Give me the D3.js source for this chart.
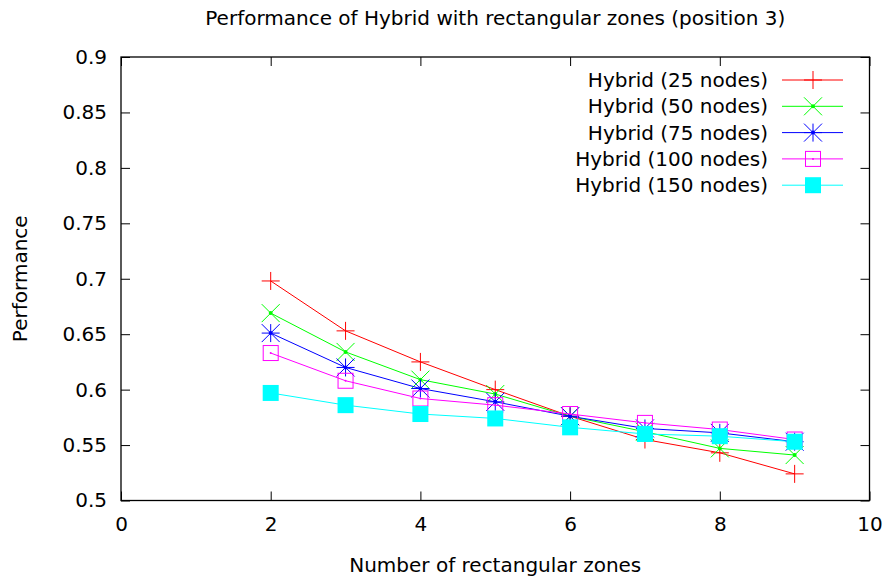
<!DOCTYPE html>
<html>
<head>
<meta charset="utf-8">
<script src="https://cdn.jsdelivr.net/npm/d3@7"></script>
<style>
  html, body { margin: 0; padding: 0; background: #fff; }
  svg { display: block; }
  text { font-family: "DejaVu Sans", sans-serif; fill: #000; }
</style>
</head>
<body>
<svg id="chart" width="886" height="581"></svg>
<script>
// ---- data ----
const xValues = [2, 3, 4, 5, 6, 7, 8, 9];
const seriesNames = ["Hybrid (25 nodes)", "Hybrid (50 nodes)", "Hybrid (75 nodes)", "Hybrid (100 nodes)", "Hybrid (150 nodes)"];
const nodes25  = [0.698, 0.653, 0.625, 0.600, 0.576, 0.555, 0.543, 0.524];
const nodes50  = [0.669, 0.634, 0.609, 0.596, 0.576, 0.562, 0.547, 0.541];
const nodes75  = [0.651, 0.620, 0.601, 0.589, 0.576, 0.565, 0.561, 0.553];
const nodes100 = [0.633, 0.608, 0.592, 0.586, 0.578, 0.570, 0.564, 0.555];
const nodes150 = [0.597, 0.586, 0.578, 0.574, 0.566, 0.560, 0.558, 0.553];
const xTicks = [0, 2, 4, 6, 8, 10];
const yTicks = [0.5, 0.55, 0.6, 0.65, 0.7, 0.75, 0.8, 0.85, 0.9];
const titleText = "Performance of Hybrid with rectangular zones (position 3)";
const xLabel = "Number of rectangular zones";
const yLabel = "Performance";

const seriesValues = [nodes25, nodes50, nodes75, nodes100, nodes150];
const colors = ["#ff0000", "#00ff00", "#0000ff", "#ff00ff", "#00ffff"];
const markers = ["plus", "cross", "star", "box", "fbox"];

// ---- layout ----
const svg = d3.select("#chart");
const L = 121, R = 869.5, T = 57, B = 500.5;
const x = d3.scaleLinear().domain([0, 10]).range([L, R]);
const y = d3.scaleLinear().domain([0.5, 0.9]).range([B, T]);
const fs = 20;

// title
svg.append("text").attr("x", (L + R) / 2).attr("y", 25)
  .attr("text-anchor", "middle").attr("font-size", fs).text(titleText);

// axes via d3 (ticks inward)
const fmt = d => d3.format("")(+d.toFixed(2));
const gx = svg.append("g").attr("transform", `translate(0,${B})`)
  .call(d3.axisBottom(x).tickValues(xTicks).tickSize(-9).tickPadding(16).tickFormat(fmt));
const gy = svg.append("g").attr("transform", `translate(${L},0)`)
  .call(d3.axisLeft(y).tickValues(yTicks).tickSize(-9).tickPadding(14).tickFormat(fmt));
const gxt = svg.append("g").attr("transform", `translate(0,${T})`)
  .call(d3.axisTop(x).tickValues(xTicks).tickSize(-9).tickFormat(""));
const gyr = svg.append("g").attr("transform", `translate(${R},0)`)
  .call(d3.axisRight(y).tickValues(yTicks).tickSize(-9).tickFormat(""));
[gx, gy, gxt, gyr].forEach(g => {
  g.select(".domain").remove();
  g.selectAll(".tick line").attr("stroke", "#000").attr("stroke-width", 1);
  g.selectAll(".tick text").attr("font-size", fs).attr("font-family", "DejaVu Sans, sans-serif").attr("fill", "#000");
});
gx.selectAll(".tick text").attr("dy", "0.71em");

// frame
svg.append("rect").attr("x", L).attr("y", T).attr("width", R - L).attr("height", B - T)
  .attr("fill", "none").attr("stroke", "#000").attr("stroke-width", 1.3);

// axis labels
svg.append("text").attr("x", (L + R) / 2).attr("y", 572)
  .attr("text-anchor", "middle").attr("font-size", fs).text(xLabel);
svg.append("text").attr("transform", `translate(27,${(T + B) / 2}) rotate(-90)`)
  .attr("text-anchor", "middle").attr("font-size", fs).text(yLabel);

// marker drawing
function drawMarker(g, type, cx, cy, color) {
  const h = 9;
  if (type === "plus" || type === "star") {
    g.append("line").attr("x1", cx - h).attr("x2", cx + h).attr("y1", cy).attr("y2", cy).attr("stroke", color).attr("stroke-width", 1);
    g.append("line").attr("x1", cx).attr("x2", cx).attr("y1", cy - h).attr("y2", cy + h).attr("stroke", color).attr("stroke-width", 1);
  }
  if (type === "cross" || type === "star") {
    g.append("line").attr("x1", cx - h).attr("x2", cx + h).attr("y1", cy - h).attr("y2", cy + h).attr("stroke", color).attr("stroke-width", 1);
    g.append("line").attr("x1", cx - h).attr("x2", cx + h).attr("y1", cy + h).attr("y2", cy - h).attr("stroke", color).attr("stroke-width", 1);
  }
  if (type === "box") {
    g.append("rect").attr("x", cx - 7.5).attr("y", cy - 7.5).attr("width", 15).attr("height", 15)
      .attr("fill", "none").attr("stroke", color).attr("stroke-width", 1);
  }
  if (type === "fbox") {
    g.append("rect").attr("x", cx - 8).attr("y", cy - 8).attr("width", 16).attr("height", 16)
      .attr("fill", color).attr("stroke", "none");
  }
  if (type === "star" || type === "cross" || type === "box") {
    g.append("circle").attr("cx", cx).attr("cy", cy).attr("r", type === "box" ? 1 : 2).attr("fill", color);
  }
}

// series
const line = d3.line().x(d => x(d[0])).y(d => y(d[1]));
seriesValues.forEach((vals, i) => {
  const pts = xValues.map((xv, j) => [xv, vals[j]]);
  const g = svg.append("g");
  g.append("path").attr("d", line(pts)).attr("fill", "none").attr("stroke", colors[i]).attr("stroke-width", 1);
  pts.forEach(p => drawMarker(g, markers[i], x(p[0]), y(p[1]), colors[i]));
});

// legend
const legY0 = 80, legDY = 26.3;
seriesNames.forEach((name, i) => {
  const ly = legY0 + i * legDY;
  const g = svg.append("g");
  g.append("text").attr("x", 768).attr("y", ly).attr("dy", "0.35em")
    .attr("text-anchor", "end").attr("font-size", fs).text(name);
  g.append("line").attr("x1", 782).attr("x2", 843).attr("y1", ly).attr("y2", ly)
    .attr("stroke", colors[i]).attr("stroke-width", 1);
  drawMarker(g, markers[i], 813, ly, colors[i]);
});
</script>
</body>
</html>
